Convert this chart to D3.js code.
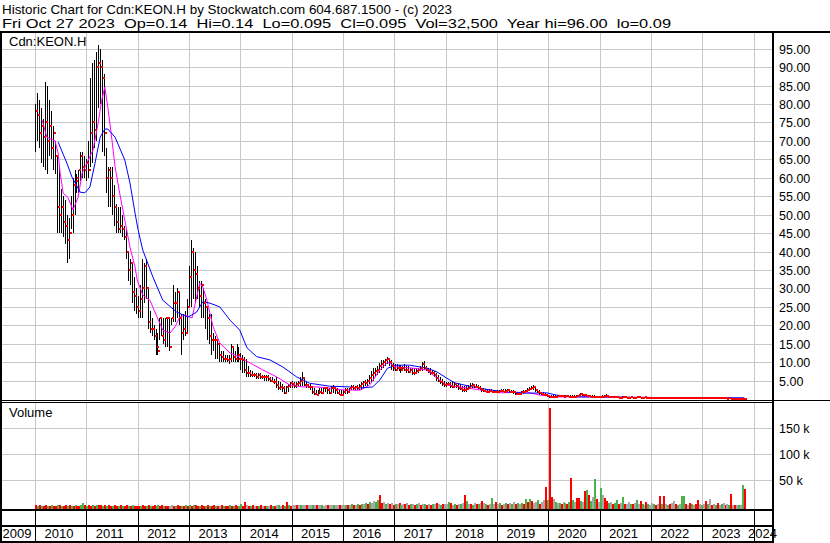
<!DOCTYPE html>
<html><head><meta charset="utf-8">
<script src="https://cdn.jsdelivr.net/npm/d3@7"></script>
<style>
body{margin:0;background:#fff}
svg{display:block}
text{font-family:Arial,"Liberation Sans",sans-serif;fill:#000;white-space:pre}
</style>
</head><body>
<svg id="c" width="830" height="543"></svg>
<script>
// ---------------- DATA ----------------
const titleLine1 = "Historic Chart for Cdn:KEON.H by Stockwatch.com 604.687.1500 - (c) 2023";
const titleLine2 = "Fri Oct 27 2023  Op=0.14  Hi=0.14  Lo=0.095  Cl=0.095  Vol=32,500  Year hi=96.00  lo=0.09";
const symbol = "Cdn:KEON.H";
const volumeTitle = "Volume";

// bi-weekly bars, first bar at start of 2010, last bar on Oct 27 2023
const firstBar = 2010.0, lastBar = 2023.82;

const high = [
80,83,81,79,76,86,85,81,78,74,70,66,63,57,55,54,50,49,55,60,62,61,62,67,67,66,
65,70,87,91,92,94,96,95,92,88,68,63,63,63,58,53,52,52,50,47,46,40,38,37,33,30,
28,31,38,37,38,30,24,22,20,19,18,22,22,22,22,22,22,22,31,29,30,29,23,23,24,27,
36,43,41,40,36,32,32,30,27,25,23,23,18,17,16,15,13,13,12,12,12,15,14,13,15,14,
12.5,12,11.5,11,9,8,7.5,7,7,7,7,6.5,6.5,6.5,6.5,6,6,5.5,6,5,4.5,4,3.5,3.5,4,4.5,
5,4.5,4.5,5,6,7.4,6,4.5,4,4,3.5,3,2.5,2.5,3,3,3,3,3,3,3.5,3.8,3,3,2.5,2.5,
2.5,3,3,3,3.8,3.8,3.5,3.8,4,4.7,5,5.2,5.5,6.5,7.5,8.4,8.5,9,9.8,10.5,10.6,11,11.5,11.2,10.5,9.8,
9.5,9.5,9.2,9.2,9,9.5,9,9,8.5,8.5,8.5,8.5,8.5,9,10,10.3,9,8.4,8.4,8,7.5,7,6.5,6,5.5,5,
4.7,4.7,4.5,4.5,4.7,4.4,4.4,4,3.5,3.5,3.5,3.8,4.4,4.4,4.2,4,3.8,3.5,3,3,2.8,2.8,2.8,2.7,2.6,2.5,
2.5,2.5,2.7,2.7,2.8,2.8,2.8,2.6,2.5,2.2,2,2,2.2,2.4,2.6,3,3.2,3.6,3.8,3.4,2.8,2.4,2,1.8,1.6,1.4,
1.2,1.1,1,1,1,1,1.1,1,1,1.1,1.2,1.2,1,1,1.1,1.2,1.6,1.5,1.4,1.3,1.2,1,1,1,0.9,0.9,
0.9,1,1.2,1.4,1.1,0.9,0.8,0.8,0.7,0.7,0.7,0.8,0.7,0.7,0.6,0.7,0.6,0.6,0.7,0.6,0.6,0.5,0.6,0.6,0.5,0.5,
0.6,0.5,0.5,0.6,0.5,0.6,0.5,0.5,0.5,0.4,0.5,0.4,0.4,0.5,0.4,0.4,0.4,0.5,0.4,0.4,0.4,0.35,0.4,0.4,0.35,0.35,
0.4,0.35,0.3,0.3,0.3,0.3,0.25,0.3,0.25,0.25,0.3,0.25,0.2,0.25,0.2,0.25,0.2,0.2,0.2,0.18,0.2,0.14];

const low = [
67,70,68,64,63,62,61,66,65,62,61,45,45,45,44,42,37,38,46,45,50,56,56,59,60,60,
59,60,63,64,68,70,79,80,67,66,56,52,52,50,47,45,45,45,44,43,38,32,31,26,24,23,
22,22,22,26,27,19,18,17,16,12,12,16,17,15,14,14,13,20,21,21,22,20,12,16,17,18,
25,25,27,26,27,25,22,22,19,16,15,12,13,11,11,10,10,10,10,10,9.5,10,10,10,10,10,
8,7,7,6,6,6,6,6,5.5,5.5,5.5,5.5,5,5,5,4.5,4.5,4,3,2.5,2.5,2,1.5,1.5,2,3,
3,3,3,3.5,3.5,3.5,3.5,3,3,2.5,1.5,1.1,1,1,1.5,1.5,2,2,1.5,1.5,2,1.6,1.5,1.5,1,1,
1,1.5,1.5,2,2.5,2.5,2.5,2.5,2.5,2.5,3,3.5,3.5,4,4.5,5,6,6.5,7,8,8.5,9,9.5,9,8,7.5,
7.5,7.5,7.5,7,7.5,7.5,7,7,7,6.5,6.5,7,7,7.5,7.5,8,7.5,7,6.5,6.5,6,5,4.5,4,3.5,3.3,
3.3,3.5,3,3,3.5,3,2.5,2.5,2,2,2,2.5,3,3,3,3,2.8,2.5,2,2,1.8,1.7,1.8,1.8,1.7,1.7,
1.7,1.8,1.8,1.8,1.9,2,1.8,1.7,1.5,1.2,1.1,1.1,1.2,1.5,1.8,2,2.2,2.4,2.4,2,1.6,1.2,1.1,1,0.8,0.6,
0.3,0.4,0.4,0.4,0.5,0.6,0.6,0.6,0.6,0.6,0.6,0.5,0.5,0.5,0.6,0.7,0.8,0.8,0.7,0.7,0.6,0.6,0.5,0.5,0.5,0.5,
0.4,0.4,0.5,0.6,0.5,0.4,0.4,0.4,0.3,0.3,0.3,0.3,0.3,0.3,0.3,0.3,0.3,0.3,0.3,0.3,0.3,0.3,0.3,0.3,0.3,0.3,
0.3,0.3,0.25,0.3,0.25,0.3,0.25,0.25,0.25,0.2,0.25,0.2,0.2,0.25,0.2,0.2,0.2,0.25,0.2,0.2,0.2,0.18,0.2,0.2,0.18,0.18,
0.2,0.18,0.15,0.15,0.15,0.15,0.12,0.15,0.12,0.12,0.15,0.12,0.1,0.12,0.1,0.12,0.1,0.1,0.1,0.09,0.1,0.095];

const close = [
78,77,72,74,71,75,70,74,68,72,66,52,50,52,48,47,43,45,50,58,59,60,62,66,63,62,
64,62,72,75,73,90,91,90,87,72,60,62,60,55,52,48,46,47,46,44,40,35,37,29,28,25,
24,27,30,36,30,21,19,19,17,14,13,22,17,16,22,22,14,22,26,26,29,22,18,19,18,25,
33,40,35,34,30,28,31,26,25,22,17,16,16,16,15,12,11.5,11,11,10.5,11,14,11.5,11,12,11,
11,10.6,8,7,7,6.5,6.5,6.5,6,6.5,6,6,6,6,5.5,5,4.7,4.5,3.8,3,3.3,3,1.6,3.3,3.5,4.3,
4,3.5,4,4.3,5,5.7,3.8,3.8,3.3,3.3,2,1.5,1.2,2,2,1.6,3,3,2.5,1.6,3,3,2.5,1.6,1.2,1.1,
2,2.5,2,3,3.3,3,3.3,3,3.5,4,4.5,4.4,4.8,5.7,6.5,7,7.5,8,9,9.5,10,10.5,11,10,9,8.5,
8,8.5,8.4,8,8.5,7.8,8,7.4,7.9,7.2,7,7.5,8,8.5,9.5,8.5,8,7.5,7.2,7,6.5,5.7,5,4.5,4,3.8,
4,4.2,3.5,3.3,4,3.5,3,2.8,2.5,2.5,2.8,3,3.5,3.8,3.3,3.2,3,2.8,2.5,2.2,2,2,2.2,2,1.9,1.8,
2,2.2,2.3,2,2.2,2.5,2,2,1.8,1.5,1.3,1.4,1.8,2,2.2,2.6,2.8,3,3.2,2.4,2,1.6,1.3,1.2,1,0.8,
0.5,0.6,0.6,0.7,0.8,0.8,0.8,0.7,0.8,0.8,0.7,0.7,0.6,0.7,0.8,1,1.4,1.2,1,0.9,0.8,0.7,0.7,0.6,0.6,0.6,
0.5,0.6,0.8,0.9,0.7,0.6,0.5,0.5,0.5,0.4,0.4,0.5,0.45,0.4,0.4,0.45,0.4,0.4,0.5,0.45,0.4,0.4,0.45,0.4,0.4,0.4,
0.4,0.42,0.38,0.4,0.35,0.4,0.34,0.35,0.36,0.3,0.32,0.32,0.3,0.34,0.3,0.3,0.3,0.33,0.3,0.28,0.3,0.26,0.3,0.28,0.26,0.25,
0.25,0.28,0.22,0.22,0.2,0.22,0.18,0.2,0.18,0.17,0.2,0.18,0.15,0.17,0.14,0.16,0.14,0.15,0.14,0.12,0.14,0.095];

// volume in thousands of shares
const volume = [
2,1.5,2,1,1.5,2,1,1.5,2,1,1.5,2.5,2,1.5,1,2,1.5,2,1,1.5,2,1.5,1,2,6,2,
1.5,2,1,2,1.5,2,3,2,1.5,2,1,2,1.5,1,2,1.5,1,2,1.5,1,2,1,1.5,2,1,1.5,
1.5,1,2,1.5,1,2,1.5,1,2,1.5,3,1,2,1.5,1,1,1.5,2,1,1.5,2,1,1.5,1,2,1.5,
2,1.5,3,2,1.5,1,2,1.5,1,2,1.5,1,2,1,1.5,1,2,1,1.5,1,2,1.5,1,2,1,1.5,
4,1.5,8,2,1.5,1,2,1,1.5,1,2,1,1.5,1,1,2,1.5,1,2,3,1.5,2,1,8,2,1.5,
2,3,2.5,3,2,3,2.5,2,3,2,2.5,3,2,2.5,3,2,1.5,2,2.5,3,2,2.5,2,3,2,2.5,
2,3,2,3,4,2,3,4,3,5,4,6,5,8,6,10,8,12,21,6,8,5,7,4,6,3,
5,4,6,3,5,4,6,3,4,5,3,4,6,3,5,4,3,4,3,5,4,6,4,3,5,4,
5,9,6,3,4,3,5,4,6,21,11,4,5,3,6,4,5,6,11,6,4,3,5,16,4,8,
4,6,3,5,7,4,6,5,8,4,6,5,7,5,14,8,14,10,6,8,12,5,8,13,37,12,
189,18,15,8,6,7,5,8,6,5,8,54,12,8,16,16,11,8,30,32,22,10,18,52,14,8,
35,22,16,11,6,8,5,6,12,4,6,17,5,4,8,5,4,6,12,4,10,5,3,8,4,3,
6,4,3,5,19,4,20,5,3,4,6,11,4,3,5,19,20,4,3,6,4,3,5,12,4,3,
5,11,4,14,3,4,3,6,3,4,6,3,4,3,24,3,2,3,2,3,41,32.5];

// bar colour: r = down, g = up, n = unchanged
const volumeDirection = [
"rgrgrrgrgrrgrgrrgrgrgrrggr","grrgrgrrgrgrrgrrgrgrrgrgrr","rgrrgrgrrggrrgrrnnrgrrgrgr",
"grgrrgrrgrgrrgrnrgrrgrgrrg","grrnrgrnrgrnrgnrgrngnrgrgr","nnrngnnrnngnrnngnnrnngnnrn",
"ngrngrngrgngrgnnggrrngnrnr","gnrgnrnrgnrgnrngrnrgnrngrn","ngrngrngnrgnrgnrgnrngrngnr",
"ngrngrngnrgngrgrgrnngrnnrg","rrngngrngrgrgnrrgnrgrgngrn","gnrrgnrggrngrnngrngnrgnrgn",
"ngrnrgrngrnnrgnggrnrgnrrng","nrgnrngrngnrngrnrngngr"].join("").split("");

// moving averages (decimal year, value)
const maFastT = [2010.14,2010.23,2010.39,2010.45,2010.49,2010.55,2010.64,2010.74,2010.84,2010.92,
2011.01,2011.13,2011.23,2011.30,2011.36,2011.42,2011.50,2011.56,2011.65,2011.75,
2011.85,2011.95,2011.99,2012.10,2012.24,2012.38,2012.49,2012.63,2012.73,2012.82,
2012.92,2013.06,2013.15,2013.21,2013.27,2013.35,2013.47,2013.60,2013.80,2013.99,
2014.19,2014.44,2014.71,2014.97,2015.22,2015.49,2015.74,2016.00,2016.33,2016.52,
2016.72,2016.87,2017.05,2017.36,2017.63,2017.83,2018.02,2018.28,2018.66,2019.05,
2019.58,2019.83,2020.16,2020.61,2021.97,2022.95,2023.82];
const maFastV = [75.6,71,70,66.7,61.3,55.8,54.7,51.3,54.7,61.3,
64,67.5,74.8,81,84.6,79,70.2,63,55.8,48.5,
41.2,35.8,32.3,28.2,26.8,22.2,18.7,17.9,19.6,22.2,
22.8,22,27.7,31.4,30.4,26.8,19.6,15.2,12.5,11.4,
9.8,7.9,6,3.8,3.3,3.3,3,2.5,2.4,3.8,
7.9,10,8.7,8.4,7.9,5.7,3.8,3.3,2.5,1.7,
1.9,1.1,0.6,0.6,0.4,0.3,0.2];
const maSlowT = [2010.45,2010.62,2010.72,2010.88,2010.97,2011.07,2011.17,2011.27,2011.36,2011.42,
2011.56,2011.75,2011.85,2011.95,2012.01,2012.10,2012.30,2012.49,2012.76,2012.98,
2013.15,2013.27,2013.41,2013.60,2013.80,2013.99,2014.13,2014.32,2014.58,2014.83,
2015.10,2015.35,2015.74,2016.13,2016.33,2016.58,2016.72,2016.87,2017.05,2017.30,
2017.63,2017.83,2018.02,2018.18,2018.53,2018.86,2019.19,2019.58,2019.97,2020.16,
2020.48,2021.00,2022.23,2023.82];
const maSlowV = [69.7,64,60.2,56.1,55.9,57.5,64,71,73.2,73.2,
71,64.8,58.6,50.4,45.8,40.4,33,26.8,23.6,22.2,
23.6,26.4,26,25,21.4,18.7,13.9,11.5,10.6,8.7,
6,4.3,3.5,3.3,3,3.3,5.2,8.4,9.2,9.2,
8.4,7.4,5.7,4.4,3.3,2.5,1.9,1.6,1.7,1.1,
0.6,0.6,0.4,0.35];

const priceTicks = [5,10,15,20,25,30,35,40,45,50,55,60,65,70,75,80,85,90,95];
const volumeTicks = [50,100,150];
const yearLabels = ["2009","2010","2011","2012","2013","2014","2015","2016","2017","2018","2019","2020","2021","2022","2023","2024"];

// ---------------- DRAWING ----------------
const svg = d3.select("#c");
const W = 830, H = 543;
const axisX = 772;            // left edge of thick right axis line
const x = d3.scaleLinear().domain([2010, 2024]).range([35, 753.5]);
const y = d3.scaleLinear().domain([0, 100]).range([399.1, 30.2]);
const yv = d3.scaleLinear().domain([0, 150]).range([506.3, 428.3]);

const n = close.length;
const stepT = (lastBar - firstBar) / (n - 1);
const barT = d3.range(n).map(i => firstBar + i * stepT);

svg.append("rect").attr("width", W).attr("height", H).attr("fill", "#fff");

const grid = svg.append("g").attr("shape-rendering", "crispEdges");
function hline(g, yy, x1, x2, col, w) {
  g.append("line").attr("x1", x1).attr("x2", x2).attr("y1", yy).attr("y2", yy)
   .attr("stroke", col).attr("stroke-width", w || 1);
}
function vline(g, xx, y1, y2, col, w) {
  g.append("line").attr("x1", xx).attr("x2", xx).attr("y1", y1).attr("y2", y2)
   .attr("stroke", col).attr("stroke-width", w || 1);
}
const GRID = "#c8c8c8";
priceTicks.forEach(v => hline(grid, Math.round(y(v)) + 0.5, 2, axisX, GRID));
volumeTicks.forEach(v => hline(grid, Math.round(yv(v)) + 0.5, 2, axisX, GRID));
const yearBounds = yearLabels.slice(1).map(Number);
yearBounds.forEach(yr => {
  const xx = Math.round(x(yr)) + 0.5;
  vline(grid, xx, 33, 400, GRID);
  vline(grid, xx, 403, 509, GRID);
  vline(grid, xx, 511, 541, "#000");
});

// price bars (thin 1px high-low lines)
const bars = svg.append("g").attr("shape-rendering", "crispEdges");
bars.selectAll("rect").data(d3.range(n)).join("rect")
  .attr("x", i => Math.round(x(barT[i])))
  .attr("width", 1)
  .attr("y", i => Math.round(y(high[i])))
  .attr("height", i => Math.max(1, Math.round(y(low[i])) - Math.round(y(high[i]))))
  .attr("fill", "#000");

// moving averages
const line = d3.line().x(d => x(d[0])).y(d => y(d[1]));
svg.append("path").datum(maFastT.map((t, i) => [t, maFastV[i]]))
  .attr("d", line).attr("fill", "none").attr("stroke", "#ff00ff").attr("stroke-width", 1);
svg.append("path").datum(maSlowT.map((t, i) => [t, maSlowV[i]]))
  .attr("d", line).attr("fill", "none").attr("stroke", "#0000ff").attr("stroke-width", 1);

// close ticks
const ticks = svg.append("g").attr("shape-rendering", "crispEdges");
ticks.selectAll("rect").data(d3.range(n)).join("rect")
  .attr("x", i => Math.round(x(barT[i])) + 1)
  .attr("y", i => Math.round(y(close[i])) - 1)
  .attr("width", 2).attr("height", 2)
  .attr("fill", "#ff0000");

// volume bars
const volCol = { r: "#ff0000", g: "#4cb04c", n: "#a8a8a8" };
const vb = svg.append("g").attr("shape-rendering", "crispEdges");
vb.selectAll("rect").data(d3.range(volume.length)).join("rect")
  .attr("x", i => Math.round(x(barT[i])))
  .attr("width", 2)
  .attr("y", i => Math.min(508, Math.round(yv(volume[i]))))
  .attr("height", i => 509 - Math.min(508, Math.round(yv(volume[i]))))
  .attr("fill", i => volCol[volumeDirection[i]]);

// frame lines
const frame = svg.append("g").attr("shape-rendering", "crispEdges");
frame.append("rect").attr("x", 0).attr("y", 31).attr("width", W).attr("height", 2).attr("fill", "#000");
frame.append("rect").attr("x", 0).attr("y", 31).attr("width", 2).attr("height", H - 31).attr("fill", "#000");
frame.append("rect").attr("x", axisX).attr("y", 31).attr("width", 2).attr("height", H - 31).attr("fill", "#000");
hline(frame, 400.5, 0, W, "#000");
hline(frame, 402.5, 0, axisX, "#000");
frame.append("rect").attr("x", 0).attr("y", 509).attr("width", axisX + 2).attr("height", 2).attr("fill", "#000");
frame.append("rect").attr("x", 0).attr("y", 525).attr("width", axisX + 2).attr("height", 2).attr("fill", "#000");
frame.append("rect").attr("x", 0).attr("y", 541).attr("width", axisX + 2).attr("height", 2).attr("fill", "#000");

// texts
const txt = svg.append("g");
txt.append("text").attr("x", 2).attr("y", 14).attr("font-size", 13.5)
  .attr("textLength", 450).attr("lengthAdjust", "spacingAndGlyphs").text(titleLine1);
txt.append("text").attr("x", 2).attr("y", 27.5).attr("font-size", 13.5)
  .attr("textLength", 669).attr("lengthAdjust", "spacingAndGlyphs").text(titleLine2);
txt.append("text").attr("x", 9).attr("y", 46).attr("font-size", 13).text(symbol);
txt.append("text").attr("x", 9).attr("y", 417).attr("font-size", 13).text(volumeTitle);

priceTicks.forEach(v => {
  txt.append("text").attr("x", 779).attr("y", Math.round(y(v)) + 5)
    .attr("font-size", 12.5).text(d3.format(".2f")(v));
});
volumeTicks.forEach(v => {
  txt.append("text").attr("x", 779).attr("y", Math.round(yv(v)) + 5)
    .attr("font-size", 12.5).text(v + " k");
});
yearLabels.forEach(lbl => {
  const t = txt.append("text").attr("y", 538).attr("font-size", 13).text(lbl);
  const w = t.node().getComputedTextLength();
  let xx = x(+lbl) + 9.5;
  if (xx < 2.5) xx = 2.5;
  if (xx + w > 777) xx = 777 - w;
  t.attr("x", xx);
});
</script>
</body></html>
